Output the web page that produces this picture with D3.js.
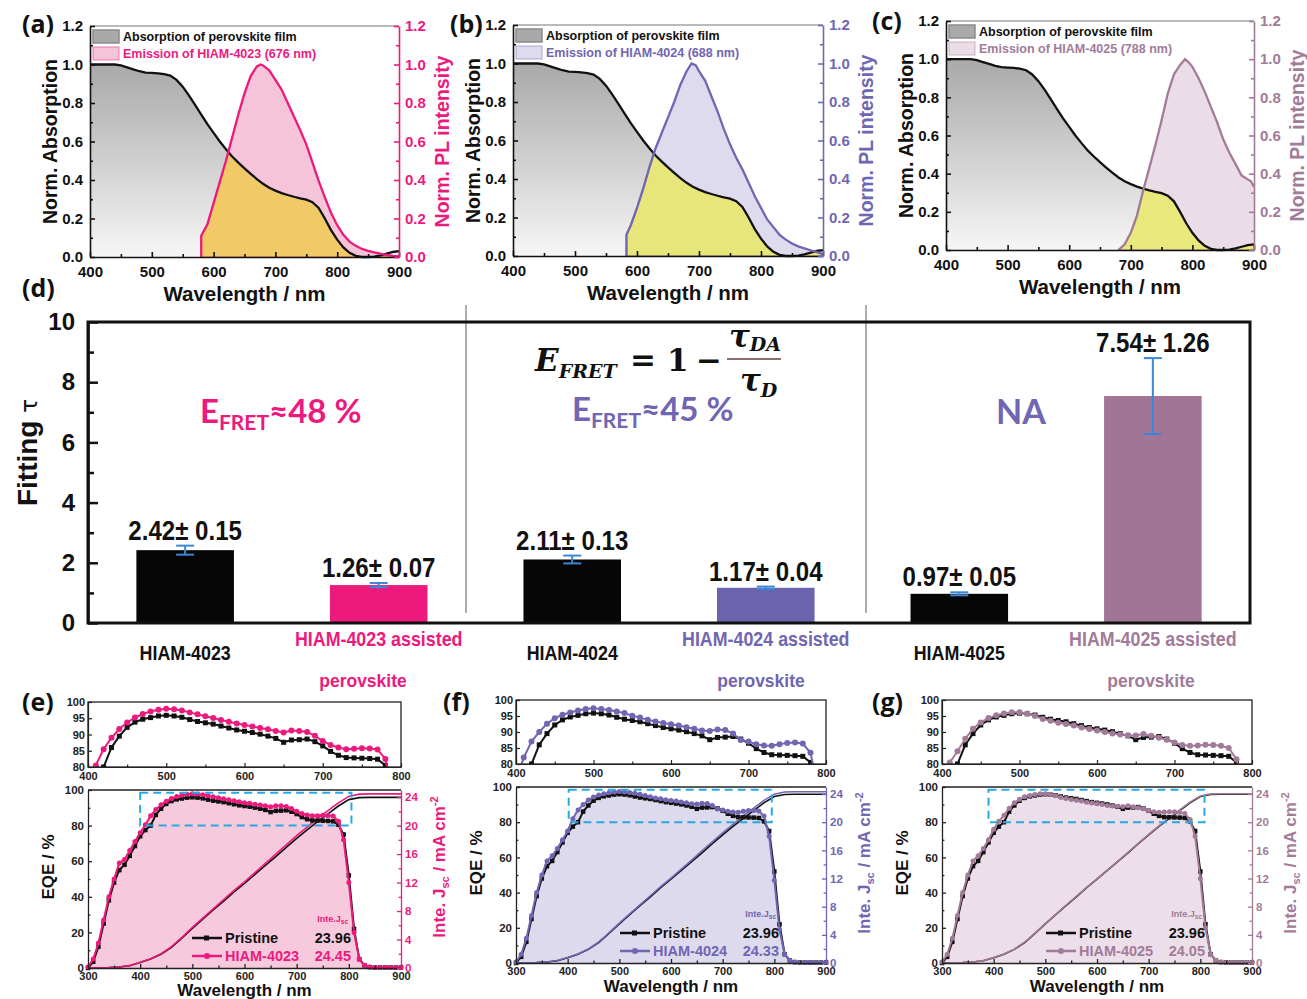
<!DOCTYPE html>
<html>
<head>
<meta charset="utf-8">
<script src="https://cdn.jsdelivr.net/npm/d3@7"></script>
<style>
  body { margin: 0; background: #fff; }
  svg { display: block; }
</style>
</head>
<body>
<svg id="fig" width="1307" height="999"></svg>
<script>
// ---------- data: (a)-(c) absorption / emission ----------
const absWl = [400,410,420,430,440,450,460,470,480,490,500,510,520,530,540,550,560,570,580,590,600,610,620,630,640,650,660,670,680,690,700,710,720,730,740,750,760,770,780,790,800,810,820,830,840,850,860,870,880,890,900];
const absVal = [1.0,1.0,1.0,1.0,1.0,0.995,0.985,0.975,0.965,0.958,0.956,0.954,0.95,0.942,0.92,0.885,0.84,0.79,0.74,0.69,0.645,0.60,0.56,0.522,0.49,0.46,0.432,0.405,0.38,0.36,0.345,0.332,0.322,0.313,0.305,0.298,0.285,0.255,0.2,0.14,0.09,0.05,0.022,0.006,0.0,0.0,0.002,0.008,0.017,0.026,0.03];

const em4023Wl = [580,580,590,600,610,620,630,640,650,660,670,676,680,690,700,710,720,730,740,750,760,770,780,790,800,810,820,830,840,850,860,870,880,890,900];
const em4023Val = [0,0.11,0.17,0.28,0.39,0.5,0.62,0.74,0.85,0.94,0.99,1.0,0.995,0.97,0.92,0.87,0.8,0.73,0.66,0.585,0.49,0.395,0.31,0.23,0.165,0.115,0.08,0.058,0.042,0.032,0.024,0.017,0.011,0.006,0.003];

const em4024Wl = [583,583,590,600,610,620,630,640,650,660,670,680,688,695,700,710,720,730,740,750,760,770,780,790,800,810,820,830,840,850,860,870,880,890,900];
const em4024Val = [0,0.11,0.16,0.25,0.35,0.46,0.56,0.64,0.72,0.8,0.89,0.96,1.0,0.99,0.96,0.91,0.83,0.75,0.66,0.58,0.51,0.45,0.38,0.31,0.25,0.19,0.15,0.11,0.085,0.065,0.05,0.04,0.03,0.02,0.01];

const em4025Wl = [680,690,700,710,720,730,740,750,760,770,780,788,795,800,810,820,830,840,850,860,870,880,890,895,900];
const em4025Val = [0,0.03,0.09,0.18,0.31,0.43,0.55,0.68,0.82,0.92,0.97,1.0,0.98,0.96,0.9,0.83,0.75,0.67,0.58,0.51,0.45,0.39,0.37,0.36,0.33];

const absLabel = 'Absorption of perovskite film';
const emLabels = ['Emission of HIAM-4023 (676 nm)', 'Emission of HIAM-4024 (688 nm)', 'Emission of HIAM-4025 (788 nm)'];

// ---------- data: (d) fitted lifetimes ----------
const tauCats = ['HIAM-4023', 'HIAM-4023 assisted', 'HIAM-4024', 'HIAM-4024 assisted', 'HIAM-4025', 'HIAM-4025 assisted'];
const tauVals = [2.42, 1.26, 2.11, 1.17, 0.97, 7.54];
const tauErrs = [0.15, 0.07, 0.13, 0.04, 0.05, 1.26];
const fretTexts = ['48 %', '45 %', 'NA'];

// ---------- data: (e)-(g) EQE ----------
const eqeWl = [300,310,320,330,340,350,360,370,380,390,400,410,420,430,440,450,460,470,480,490,500,510,520,530,540,550,560,570,580,590,600,610,620,630,640,650,660,670,680,690,700,710,720,730,740,750,760,770,780,790,800,810,820,830,840,850,860,870,880,890,900];
const eqePristine = [0,3.5,12,25,38,48,55,58,63,68.5, 74,77.5,80,86,89.5,92.2,93.8,94.7,95.2,95.7, 95.9,95.7,95.3,94.6,94.0,93.6,93.2,92.6,92.0,91.4, 91.0,90.6,90.1,89.5,88.8,87.6,88.3,88.4,88.6,87.8, 86.5,84.8,83.6,82.9,82.8,82.7,82.6,82.4,80.5,75, 52,22,5,1.5,0.5,0.3,0.3,0.3,0.3,0.3, 0.3];
const eqe4023 = [0.5,5,14,27,40,50,59,61,66,71, 76,80.5,85.5,89,91.7,93.7,95.2,96.3,97.1,97.6, 97.9,97.8,97.4,96.8,96.2,95.6,95.1,94.5,93.9,93.4, 92.9,92.5,92.0,91.6,91.1,90.6,91.2,91.1,90.8,89.6, 88.0,86.8,86.0,85.5,85.6,85.8,85.7,85.4,82.5,72, 48,20,5,1.5,0.5,0.3,0.3,0.3,0.3,0.3, 0.3];
const eqe4024 = [0.5,5,14,27,40,50,58,61,65,70, 75,82,87,90,92.6,94.3,95.4,96.1,96.7,97.2, 97.4,97.2,96.9,96.4,95.9,95.1,94.5,93.8,93.3,92.8, 92.4,92.0,91.5,91.0,90.5,90.3,90.8,90.6,89.5,87.5, 87.0,86.2,85.8,85.7,86.2,86.6,86.7,86.4,83.5,72, 47,19,5,1.5,0.5,0.3,0.3,0.3,0.3,0.3, 0.3];
const eqe4025 = [0.5,5,14,27,40,50,58,61,65,70, 76,80.5,84,87.9,91,93,94.4,95.2,95.8,96.2, 96.2,95.8,95.0,94.1,93.5,92.9,92.5,92.0,91.4,90.9, 90.5,90.0,89.5,89.2,89.0,88.9,89.4,88.8,88.2,87.6, 86.7,85.9,85.7,85.8,86.0,85.9,85.7,85.0,81.5,72, 48,20,5,1.5,0.5,0.3,0.3,0.3,0.3,0.3, 0.3];

const jscWl = [300,320,340,360,380,400,420,440,460,480,500,520,540,560,580,600,620,640,660,680,700,720,740,760,780,800,820,840,860,880,900];
const jscPristine = [0,0.02,0.06,0.14,0.33,0.76,1.25,1.93,2.9,4.2,5.55,6.85,8.15,9.4,10.7,11.9,13.15,14.4,15.65,16.95,18.2,19.4,20.55,21.65,22.75,23.65,23.93,23.96,23.96,23.96,23.96];
const jsc4023 = [0,0.02,0.06,0.15,0.35,0.8,1.3,2.0,3.0,4.3,5.7,7.0,8.3,9.6,10.9,12.1,13.4,14.7,16.0,17.3,18.6,19.8,21.0,22.1,23.2,24.1,24.42,24.45,24.45,24.45,24.45];
const jsc4024 = [0,0.02,0.06,0.15,0.35,0.79,1.29,1.98,2.98,4.28,5.67,6.97,8.27,9.55,10.85,12.05,13.33,14.62,15.92,17.2,18.5,19.7,20.9,22.0,23.1,23.98,24.3,24.33,24.33,24.33,24.33];
const jsc4025 = [0,0.02,0.06,0.15,0.34,0.78,1.28,1.96,2.95,4.24,5.6,6.9,8.2,9.45,10.75,11.95,13.2,14.45,15.72,17.0,18.28,19.48,20.65,21.75,22.85,23.72,24.02,24.05,24.05,24.05,24.05];
const jscTotals = ['23.96', '24.45', '24.33', '24.05'];
const devNames = ['Pristine', 'HIAM-4023', 'HIAM-4024', 'HIAM-4025'];

// ---------- styles ----------
const SANS = "'Liberation Sans', Arial, Helvetica, sans-serif";
const CAL = "Lato, 'Open Sans', sans-serif";
const SERIF = "'DejaVu Serif', 'Liberation Serif', serif";
const TAG = "'Open Sans', 'Liberation Sans', sans-serif";
const PINK = '#ec1a7d', PURPLE = '#7066b2', MAUVE = '#a27b99', ERR = '#3d86d6';

const svg = d3.select('#fig');
const defs = svg.append('defs');

function addAxis(g, orient, scale, pos, major, minor, o) {
  const mk = { bottom: d3.axisBottom, top: d3.axisTop, left: d3.axisLeft, right: d3.axisRight }[orient];
  const tr = (orient === 'bottom' || orient === 'top') ? `translate(0,${pos})` : `translate(${pos},0)`;
  const a = g.append('g').attr('transform', tr)
    .call(mk(scale).tickValues(major).tickSize(-o.len).tickSizeOuter(0).tickPadding(o.pad).tickFormat(o.fmt || (() => '')));
  a.attr('font-family', SANS);
  a.select('.domain').attr('stroke', o.color).attr('stroke-width', o.sw);
  a.selectAll('.tick line').attr('stroke', o.color).attr('stroke-width', o.sw);
  a.selectAll('.tick text').attr('fill', o.textColor || o.color).attr('font-size', o.fs).attr('font-weight', 'bold');
  if (minor) {
    const b = g.append('g').attr('transform', tr)
      .call(mk(scale).tickValues(minor).tickSize(-o.len * 0.6).tickSizeOuter(0).tickFormat(() => ''));
    b.select('.domain').remove();
    b.selectAll('.tick line').attr('stroke', o.color).attr('stroke-width', o.sw);
  }
  return a;
}

function tag(x, y, t) {
  svg.append('text').attr('x', x).attr('y', y).attr('font-family', TAG).attr('font-weight', 'bold')
    .attr('font-size', 25).attr('fill', '#111').text(t);
}

// condensed bold label (no narrow face installed, so squeeze horizontally)
function narrowText(g, x, y, txt, size, color, sx) {
  return g.append('text').attr('transform', `translate(${x},${y}) scale(${sx},1)`).attr('text-anchor', 'middle')
    .attr('font-family', SANS).attr('font-weight', 'bold').attr('font-size', size).attr('fill', color).text(txt);
}

// ---------- (a)-(c) ----------
const spectra = [
  { tag: '(a)', tx: 22, ty: 33, left: 90, right: 399, top: 26, bottom: 257, wl: em4023Wl, val: em4023Val, label: emLabels[0], color: PINK, emFill: '#f5c4d9', overlap: '#f2c967', ovStroke: '#f08a60' },
  { tag: '(b)', tx: 450, ty: 33, left: 513, right: 823, top: 25, bottom: 256, wl: em4024Wl, val: em4024Val, label: emLabels[1], color: PURPLE, emFill: '#dfdbee', overlap: '#e6e67a', ovStroke: '#a9a37a' },
  { tag: '(c)', tx: 872, ty: 30, left: 946, right: 1254, top: 21, bottom: 250, wl: em4025Wl, val: em4025Val, label: emLabels[2], color: MAUVE, emFill: '#ebdde7', overlap: '#e8e87c', ovStroke: '#c0a878' }
];

spectra.forEach((p, i) => {
  const g = svg.append('g');
  const x = d3.scaleLinear().domain([400, 900]).range([p.left, p.right]);
  const y = d3.scaleLinear().domain([0, 1.2]).range([p.bottom, p.top]);
  const gid = 'absGrad' + i, cid = 'absClip' + i;
  const grad = defs.append('linearGradient').attr('id', gid).attr('gradientUnits', 'userSpaceOnUse')
    .attr('x1', 0).attr('x2', 0).attr('y1', y(1)).attr('y2', y(0));
  grad.append('stop').attr('offset', 0).attr('stop-color', '#a9a9a9');
  grad.append('stop').attr('offset', 1).attr('stop-color', '#f6f6f6');

  const absPts = absWl.map((w, k) => [w, absVal[k]]);
  const emPts = p.wl.map((w, k) => [w, p.val[k]]);
  const area = d3.area().x(d => x(d[0])).y0(y(0)).y1(d => y(d[1]));
  const line = d3.line().x(d => x(d[0])).y(d => y(d[1]));
  defs.append('clipPath').attr('id', cid).append('path').attr('d', area(absPts));

  g.append('path').attr('d', area(absPts)).attr('fill', `url(#${gid})`);
  g.append('path').attr('d', area(emPts)).attr('fill', p.emFill);
  g.append('path').attr('d', area(emPts)).attr('fill', p.overlap).attr('stroke', p.ovStroke)
    .attr('stroke-width', 1.5).attr('clip-path', `url(#${cid})`);
  g.append('path').attr('d', line(absPts)).attr('fill', 'none').attr('stroke', '#111').attr('stroke-width', 2.3);
  g.append('path').attr('d', line(emPts)).attr('fill', 'none').attr('stroke', p.color).attr('stroke-width', 2.3);

  // frame + axes
  g.append('line').attr('x1', p.left).attr('x2', p.right).attr('y1', p.top).attr('y2', p.top)
    .attr('stroke', '#777').attr('stroke-width', 1.2);
  const yMaj = [0, 0.2, 0.4, 0.6, 0.8, 1.0, 1.2], yMin = [0.1, 0.3, 0.5, 0.7, 0.9, 1.1];
  addAxis(g, 'bottom', x, p.bottom, [400, 500, 600, 700, 800, 900], [450, 550, 650, 750, 850],
    { len: 5, pad: 9, color: '#111', sw: 1.6, fs: 15, fmt: d3.format('d') });
  addAxis(g, 'left', y, p.left, yMaj, yMin,
    { len: 5, pad: 7, color: '#111', sw: 1.6, fs: 15, fmt: d3.format('.1f') });
  addAxis(g, 'right', y, p.right, yMaj, yMin,
    { len: 5, pad: 6, color: p.color, sw: 1.6, fs: 15, fmt: d3.format('.1f') });

  const cy = (p.top + p.bottom) / 2;
  g.append('text').attr('transform', `translate(${p.left - 40},${cy}) rotate(-90)`).attr('dy', '0.35em')
    .attr('text-anchor', 'middle').attr('font-family', SANS).attr('font-weight', 'bold').attr('font-size', 19.5)
    .attr('fill', '#111').text('Norm. Absorption');
  g.append('text').attr('transform', `translate(${p.right + 43},${cy}) rotate(-90)`).attr('dy', '0.35em')
    .attr('text-anchor', 'middle').attr('font-family', SANS).attr('font-weight', 'bold').attr('font-size', 19.5)
    .attr('fill', p.color).text('Norm. PL intensity');
  g.append('text').attr('x', (p.left + p.right) / 2).attr('y', p.bottom + 44).attr('text-anchor', 'middle')
    .attr('font-family', SANS).attr('font-weight', 'bold').attr('font-size', 20.5).attr('fill', '#111')
    .text('Wavelength / nm');

  // legend
  const lx = p.left + 3, ly = p.top + 4;
  g.append('rect').attr('x', lx).attr('y', ly).attr('width', 26).attr('height', 13)
    .attr('fill', `url(#${gid})`).attr('stroke', '#8a8a8a').attr('stroke-width', 1.5);
  g.append('rect').attr('x', lx).attr('y', ly + 17).attr('width', 26).attr('height', 13)
    .attr('fill', p.emFill).attr('stroke', p.color).attr('stroke-opacity', 0.35).attr('stroke-width', 1.5);
  g.append('text').attr('x', lx + 30).attr('y', ly + 11).attr('font-family', SANS).attr('font-weight', 'bold')
    .attr('font-size', 12.5).attr('fill', '#111').text(absLabel);
  g.append('text').attr('x', lx + 30).attr('y', ly + 28).attr('font-family', SANS).attr('font-weight', 'bold')
    .attr('font-size', 12.5).attr('fill', p.color).text(p.label);

  tag(p.tx, p.ty, p.tag);
});

// ---------- (d) ----------
const bp = { left: 88, right: 1250, top: 322, bottom: 623, dividers: [466, 866] };
const barColors = ['#060606', PINK, '#060606', '#6c63ae', '#060606', '#a07596'];
const catColors = ['#111', PINK, '#111', PURPLE, '#111', MAUVE];
const xb = d3.scaleBand().domain(tauCats).range([bp.left, bp.right]).paddingInner(0.496).paddingOuter(0.25);
const yb = d3.scaleLinear().domain([0, 10]).range([bp.bottom, bp.top]);
const gd = svg.append('g');

bp.dividers.forEach(dx => {
  gd.append('line').attr('x1', dx).attr('x2', dx).attr('y1', bp.top - 17).attr('y2', bp.bottom - 10)
    .attr('stroke', '#9a9a9a').attr('stroke-width', 1.6);
});

gd.selectAll('.bar').data(tauCats).enter().append('rect')
  .attr('x', d => xb(d)).attr('width', xb.bandwidth())
  .attr('y', (d, i) => yb(tauVals[i])).attr('height', (d, i) => yb(0) - yb(tauVals[i]))
  .attr('fill', (d, i) => barColors[i]);

tauCats.forEach((c, i) => {
  const cx = xb(c) + xb.bandwidth() / 2;
  const hi = yb(tauVals[i] + tauErrs[i]), lo = yb(tauVals[i] - tauErrs[i]);
  gd.append('line').attr('x1', cx).attr('x2', cx).attr('y1', hi).attr('y2', lo).attr('stroke', ERR).attr('stroke-width', 2);
  [hi, lo].forEach(yy => gd.append('line').attr('x1', cx - 9).attr('x2', cx + 9).attr('y1', yy).attr('y2', yy)
    .attr('stroke', ERR).attr('stroke-width', 2));
  narrowText(gd, cx, hi - 6, tauVals[i].toFixed(2) + '\u00b1 ' + tauErrs[i].toFixed(2), 28, '#111', 0.86);
  const colored = i % 2 === 1;
  narrowText(gd, cx, bp.bottom + (colored ? 23 : 37), c, 21, catColors[i], 0.85);
});

gd.append('rect').attr('x', bp.left).attr('y', bp.top).attr('width', bp.right - bp.left)
  .attr('height', bp.bottom - bp.top).attr('fill', 'none').attr('stroke', '#111').attr('stroke-width', 3);
addAxis(gd, 'left', yb, bp.left, [0, 2, 4, 6, 8, 10], [1, 3, 5, 7, 9],
  { len: 10, pad: 13, color: '#111', sw: 2.5, fs: 24, fmt: d3.format('d') });

const ft = gd.append('text').attr('transform', `translate(27,${(bp.top + bp.bottom) / 2 - 20}) rotate(-90)`)
  .attr('dy', '0.35em').attr('text-anchor', 'middle').attr('font-family', SANS).attr('font-size', 28).attr('fill', '#111');
ft.append('tspan').attr('font-weight', 'bold').text('Fitting ');
ft.append('tspan').attr('font-family', 'DejaVu Sans').attr('font-size', 23).text('\u03c4');

function fretLabel(x, y, pct, color) {
  const t = gd.append('text').attr('x', x).attr('y', y).attr('fill', color).attr('font-family', CAL).attr('font-weight', 'bold');
  t.append('tspan').attr('font-size', 33).text('E');
  t.append('tspan').attr('font-size', 21).attr('dy', 7).text('FRET');
  t.append('tspan').attr('font-size', 33).attr('dy', -7).text('\u2248' + pct);
}
fretLabel(200, 423, fretTexts[0], PINK);
fretLabel(572, 421, fretTexts[1], PURPLE);
gd.append('text').attr('x', 1021).attr('y', 424).attr('text-anchor', 'middle').attr('fill', PURPLE)
  .attr('font-family', CAL).attr('font-weight', 'bold').attr('font-size', 34).text(fretTexts[2]);

// formula E_FRET = 1 - tau_DA / tau_D
const fm = gd.append('text').attr('x', 535).attr('y', 371).attr('font-family', SERIF).attr('font-weight', 'bold')
  .attr('font-style', 'italic').attr('fill', '#111');
fm.append('tspan').attr('font-size', 31).text('E');
fm.append('tspan').attr('font-size', 19).attr('dy', 7).text('FRET');
[['=', 630], ['1', 667], ['\u2212', 696]].forEach(([s, xx]) => {
  gd.append('text').attr('x', xx).attr('y', 371).attr('font-family', SERIF).attr('font-weight', 'bold')
    .attr('font-size', 31).attr('fill', '#111').text(s);
});
gd.append('line').attr('x1', 727).attr('x2', 781).attr('y1', 359).attr('y2', 359).attr('stroke', '#8c6e6e').attr('stroke-width', 2);
const num = gd.append('text').attr('x', 729).attr('y', 347).attr('font-family', SERIF).attr('font-weight', 'bold')
  .attr('font-style', 'italic').attr('fill', '#111');
num.append('tspan').attr('font-size', 31).text('\u03c4');
num.append('tspan').attr('font-size', 19).attr('dy', 4).text('DA');
const den = gd.append('text').attr('x', 740).attr('y', 391).attr('font-family', SERIF).attr('font-weight', 'bold')
  .attr('font-style', 'italic').attr('fill', '#111');
den.append('tspan').attr('font-size', 31).text('\u03c4');
den.append('tspan').attr('font-size', 19).attr('dy', 6).text('D');

tag(22, 297, '(d)');

// ---------- (e)-(g) ----------
const eqePanels = [
  { tag: '(e)', tx: 22, left: 88, right: 401, insTop: 702, insBot: 767, top: 790, bottom: 968, color: PINK, fill: '#f6c9dc', eqe: eqe4023, jsc: jsc4023, k: 1, box: [400, 805], perovX: 363 },
  { tag: '(f)', tx: 443, left: 516, right: 826, insTop: 700, insBot: 764, top: 787, bottom: 963, color: PURPLE, fill: '#dddaee', eqe: eqe4024, jsc: jsc4024, k: 2, box: [402, 795], perovX: 761 },
  { tag: '(g)', tx: 872, left: 942, right: 1252, insTop: 700, insBot: 764, top: 787, bottom: 963, color: MAUVE, fill: '#ecdfe9', eqe: eqe4025, jsc: jsc4025, k: 3, box: [390, 808], perovX: 1151 }
];

function drawSeries(g, x, y, vals, wls, color, marker, lw, ms, clip) {
  const pts = wls.map((w, k) => [w, vals[k]]);
  const grp = g.append('g');
  if (clip) grp.attr('clip-path', `url(#${clip})`);
  grp.append('path').attr('d', d3.line().x(d => x(d[0])).y(d => y(d[1]))(pts))
    .attr('fill', 'none').attr('stroke', color).attr('stroke-width', lw);
  if (marker === 'square') {
    grp.selectAll(null).data(pts).enter().append('rect')
      .attr('x', d => x(d[0]) - ms / 2).attr('y', d => y(d[1]) - ms / 2).attr('width', ms).attr('height', ms).attr('fill', color);
  } else if (marker === 'circle') {
    grp.selectAll(null).data(pts).enter().append('circle')
      .attr('cx', d => x(d[0])).attr('cy', d => y(d[1])).attr('r', ms / 2).attr('fill', color);
  }
}

eqePanels.forEach((p, i) => {
  const g = svg.append('g');
  // inset: zoom of 400-800 nm, 80-100 %
  const xi = d3.scaleLinear().domain([400, 800]).range([p.left, p.right]);
  const yi = d3.scaleLinear().domain([80, 100]).range([p.insBot, p.insTop]);
  const cid = 'insClip' + i;
  defs.append('clipPath').attr('id', cid).append('rect').attr('x', p.left).attr('y', p.insTop)
    .attr('width', p.right - p.left).attr('height', p.insBot - p.insTop);
  drawSeries(g, xi, yi, eqePristine, eqeWl, '#111', 'square', 2, 5, cid);
  drawSeries(g, xi, yi, p.eqe, eqeWl, p.color, 'circle', 2, 6, cid);
  g.append('rect').attr('x', p.left).attr('y', p.insTop).attr('width', p.right - p.left)
    .attr('height', p.insBot - p.insTop).attr('fill', 'none').attr('stroke', '#222').attr('stroke-width', 1.3);
  addAxis(g, 'bottom', xi, p.insBot, [400, 500, 600, 700, 800], [450, 550, 650, 750],
    { len: 4, pad: 5, color: '#222', sw: 1.2, fs: 11, fmt: d3.format('d') });
  addAxis(g, 'left', yi, p.left, [80, 85, 90, 95, 100], null,
    { len: 4, pad: 3, color: '#222', sw: 1.2, fs: 11, fmt: d3.format('d') });
  g.append('text').attr('x', p.perovX).attr('y', 687).attr('text-anchor', 'middle').attr('font-family', SANS)
    .attr('font-weight', 'bold').attr('font-size', 17.5).attr('fill', p.color).text('perovskite');

  // main plot: EQE (left) and integrated Jsc (right)
  const x = d3.scaleLinear().domain([300, 900]).range([p.left, p.right]);
  const y = d3.scaleLinear().domain([0, 100]).range([p.bottom, p.top]);
  const yr = d3.scaleLinear().domain([0, 25]).range([p.bottom, p.top]);
  const pts = eqeWl.map((w, k) => [w, p.eqe[k]]);
  g.append('path').attr('d', d3.area().x(d => x(d[0])).y0(y(0)).y1(d => y(d[1]))(pts)).attr('fill', p.fill);
  drawSeries(g, x, yr, jscPristine, jscWl, '#111', null, 1.6, 0);
  drawSeries(g, x, yr, p.jsc, jscWl, p.color, null, 1.6, 0);
  drawSeries(g, x, y, eqePristine, eqeWl, '#111', 'square', 2, 4.5);
  drawSeries(g, x, y, p.eqe, eqeWl, p.color, 'circle', 2, 5);

  g.append('rect').attr('x', x(p.box[0])).attr('y', y(98.5)).attr('width', x(p.box[1]) - x(p.box[0]))
    .attr('height', y(80) - y(98.5)).attr('fill', 'none').attr('stroke', '#2aa8e2').attr('stroke-width', 2)
    .attr('stroke-dasharray', '8,5');

  g.append('line').attr('x1', p.left).attr('x2', p.right).attr('y1', p.top).attr('y2', p.top).attr('stroke', '#222').attr('stroke-width', 1.3);
  addAxis(g, 'bottom', x, p.bottom, [300, 400, 500, 600, 700, 800, 900], [350, 450, 550, 650, 750, 850],
    { len: 4, pad: 4, color: '#222', sw: 1.3, fs: 11, fmt: d3.format('d') });
  addAxis(g, 'left', y, p.left, [0, 20, 40, 60, 80, 100], [10, 30, 50, 70, 90],
    { len: 4, pad: 4, color: '#222', sw: 1.3, fs: 11.5, fmt: d3.format('d') });
  addAxis(g, 'right', yr, p.right, [0, 4, 8, 12, 16, 20, 24], [2, 6, 10, 14, 18, 22],
    { len: 4, pad: 4, color: p.color, sw: 1.3, fs: 11.5, fmt: d3.format('d') });

  const cy = (p.top + p.bottom) / 2 - 12;
  g.append('text').attr('transform', `translate(${p.left - 40},${cy}) rotate(-90)`).attr('dy', '0.35em')
    .attr('text-anchor', 'middle').attr('font-family', SANS).attr('font-weight', 'bold').attr('font-size', 17)
    .attr('fill', '#111').text('EQE / %');
  const rt = g.append('text').attr('transform', `translate(${p.right + 38},${cy}) rotate(-90)`).attr('dy', '0.35em')
    .attr('text-anchor', 'middle').attr('font-family', SANS).attr('font-weight', 'bold').attr('font-size', 17)
    .attr('fill', p.color);
  rt.append('tspan').text('Inte. J');
  rt.append('tspan').attr('font-size', 11).attr('dy', 4).text('sc');
  rt.append('tspan').attr('dy', -4).text(' / mA cm');
  rt.append('tspan').attr('font-size', 11).attr('dy', -7).text('-2');
  g.append('text').attr('x', (p.left + p.right) / 2).attr('y', Math.min(p.bottom + 29, 996)).attr('text-anchor', 'middle')
    .attr('font-family', SANS).attr('font-weight', 'bold').attr('font-size', 17).attr('fill', '#111')
    .text('Wavelength / nm');

  // legend
  const lx = p.left + 104, vr = p.left + 263;
  const rows = [{ c: '#111', m: 'square', name: devNames[0], v: jscTotals[0], yy: p.bottom - 30 },
                { c: p.color, m: 'circle', name: devNames[p.k], v: jscTotals[p.k], yy: p.bottom - 12 }];
  rows.forEach(r => {
    g.append('line').attr('x1', lx).attr('x2', lx + 30).attr('y1', r.yy).attr('y2', r.yy).attr('stroke', r.c).attr('stroke-width', 2.5);
    if (r.m === 'square') g.append('rect').attr('x', lx + 12).attr('y', r.yy - 2.5).attr('width', 5).attr('height', 5).attr('fill', r.c);
    else g.append('circle').attr('cx', lx + 15).attr('cy', r.yy).attr('r', 3).attr('fill', r.c);
    g.append('text').attr('x', lx + 33).attr('y', r.yy + 5).attr('font-family', SANS).attr('font-weight', 'bold')
      .attr('font-size', 14.5).attr('fill', r.c).text(r.name);
    g.append('text').attr('x', vr).attr('y', r.yy + 5).attr('text-anchor', 'end').attr('font-family', SANS)
      .attr('font-weight', 'bold').attr('font-size', 14.5).attr('fill', r.c).text(r.v);
  });
  const ij = g.append('text').attr('x', vr - 3).attr('y', p.bottom - 46).attr('text-anchor', 'end')
    .attr('font-family', SANS).attr('font-weight', 'bold').attr('font-size', 9).attr('fill', p.color);
  ij.append('tspan').text('Inte.J');
  ij.append('tspan').attr('font-size', 6.5).attr('dy', 2).text('sc');

  tag(p.tx, 711, p.tag);
});
</script>
</body>
</html>
